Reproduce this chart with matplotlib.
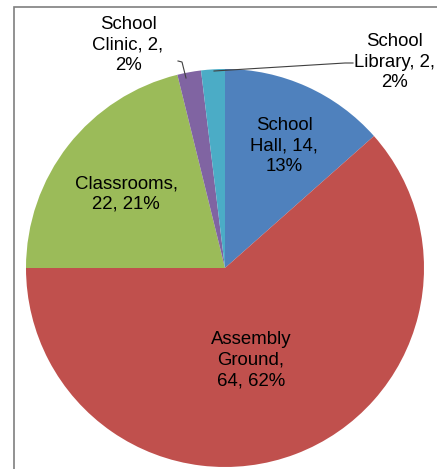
import matplotlib
matplotlib.use('Agg')
import matplotlib.pyplot as plt
from matplotlib.patches import Rectangle

plt.rcParams['font.family'] = ['Liberation Sans', 'DejaVu Sans']

categories = ['School Hall', 'Assembly Ground', 'Classrooms', 'School Clinic', 'School Library']
values = [14, 64, 22, 2, 2]
percents = [13, 62, 21, 2, 2]
colors = ['#4F81BD', '#C0504D', '#9BBB59', '#8064A2', '#4BACC6']

W, H = 437, 469
fig = plt.figure(figsize=(W / 100, H / 100), dpi=100)

# outer chart frame (right/bottom edges fall outside the picture)
fig.patches.append(Rectangle((14 / W, -0.05), 1.0, 1 - 7 / H + 0.05, transform=fig.transFigure,
                             fill=False, edgecolor='#7f7f7f', linewidth=1.2))

cx, cy, r = 225, 268, 199
ax = fig.add_axes([(cx - r) / W, 1 - (cy + r) / H, 2 * r / W, 2 * r / H])
ax.pie(values, colors=colors, startangle=90, counterclock=False, radius=1,
       wedgeprops=dict(linewidth=0))
ax.set_xlim(-1, 1)
ax.set_ylim(-1, 1)
ax.set_aspect('auto')
ax.axis('off')


def d(px, py):
    return ((px - cx) / r, (cy - py) / r)


labels = {
    'School Hall': ('School\nHall, {v},\n{p}%', (284, 146)),
    'Assembly Ground': ('Assembly\nGround,\n{v}, {p}%', (251, 360)),
    'Classrooms': ('Classrooms,\n{v}, {p}%', (126, 194)),
    'School Clinic': ('School\nClinic, {v},\n{p}%', (128, 45)),
    'School Library': ('School\nLibrary, {v},\n{p}%', (394, 62)),
}
for cat, v, p in zip(categories, values, percents):
    fmt, pos = labels[cat]
    ax.text(*d(*pos), fmt.format(v=v, p=p), ha='center', va='center',
            fontsize=13.4, linespacing=1.3, clip_on=False)

# leader lines
x0, y0 = d(186, 78)
x1, y1 = d(182, 62)
x2, y2 = d(178, 61)
ax.plot([x0, x1, x2], [y0, y1, y2], color='#404040', lw=0.8, clip_on=False)
x0, y0 = d(214, 71)
x1, y1 = d(345, 63)
x2, y2 = d(353, 63)
ax.plot([x0, x1, x2], [y0, y1, y2], color='#404040', lw=0.8, clip_on=False)

fig.savefig('out.png', dpi=100)
